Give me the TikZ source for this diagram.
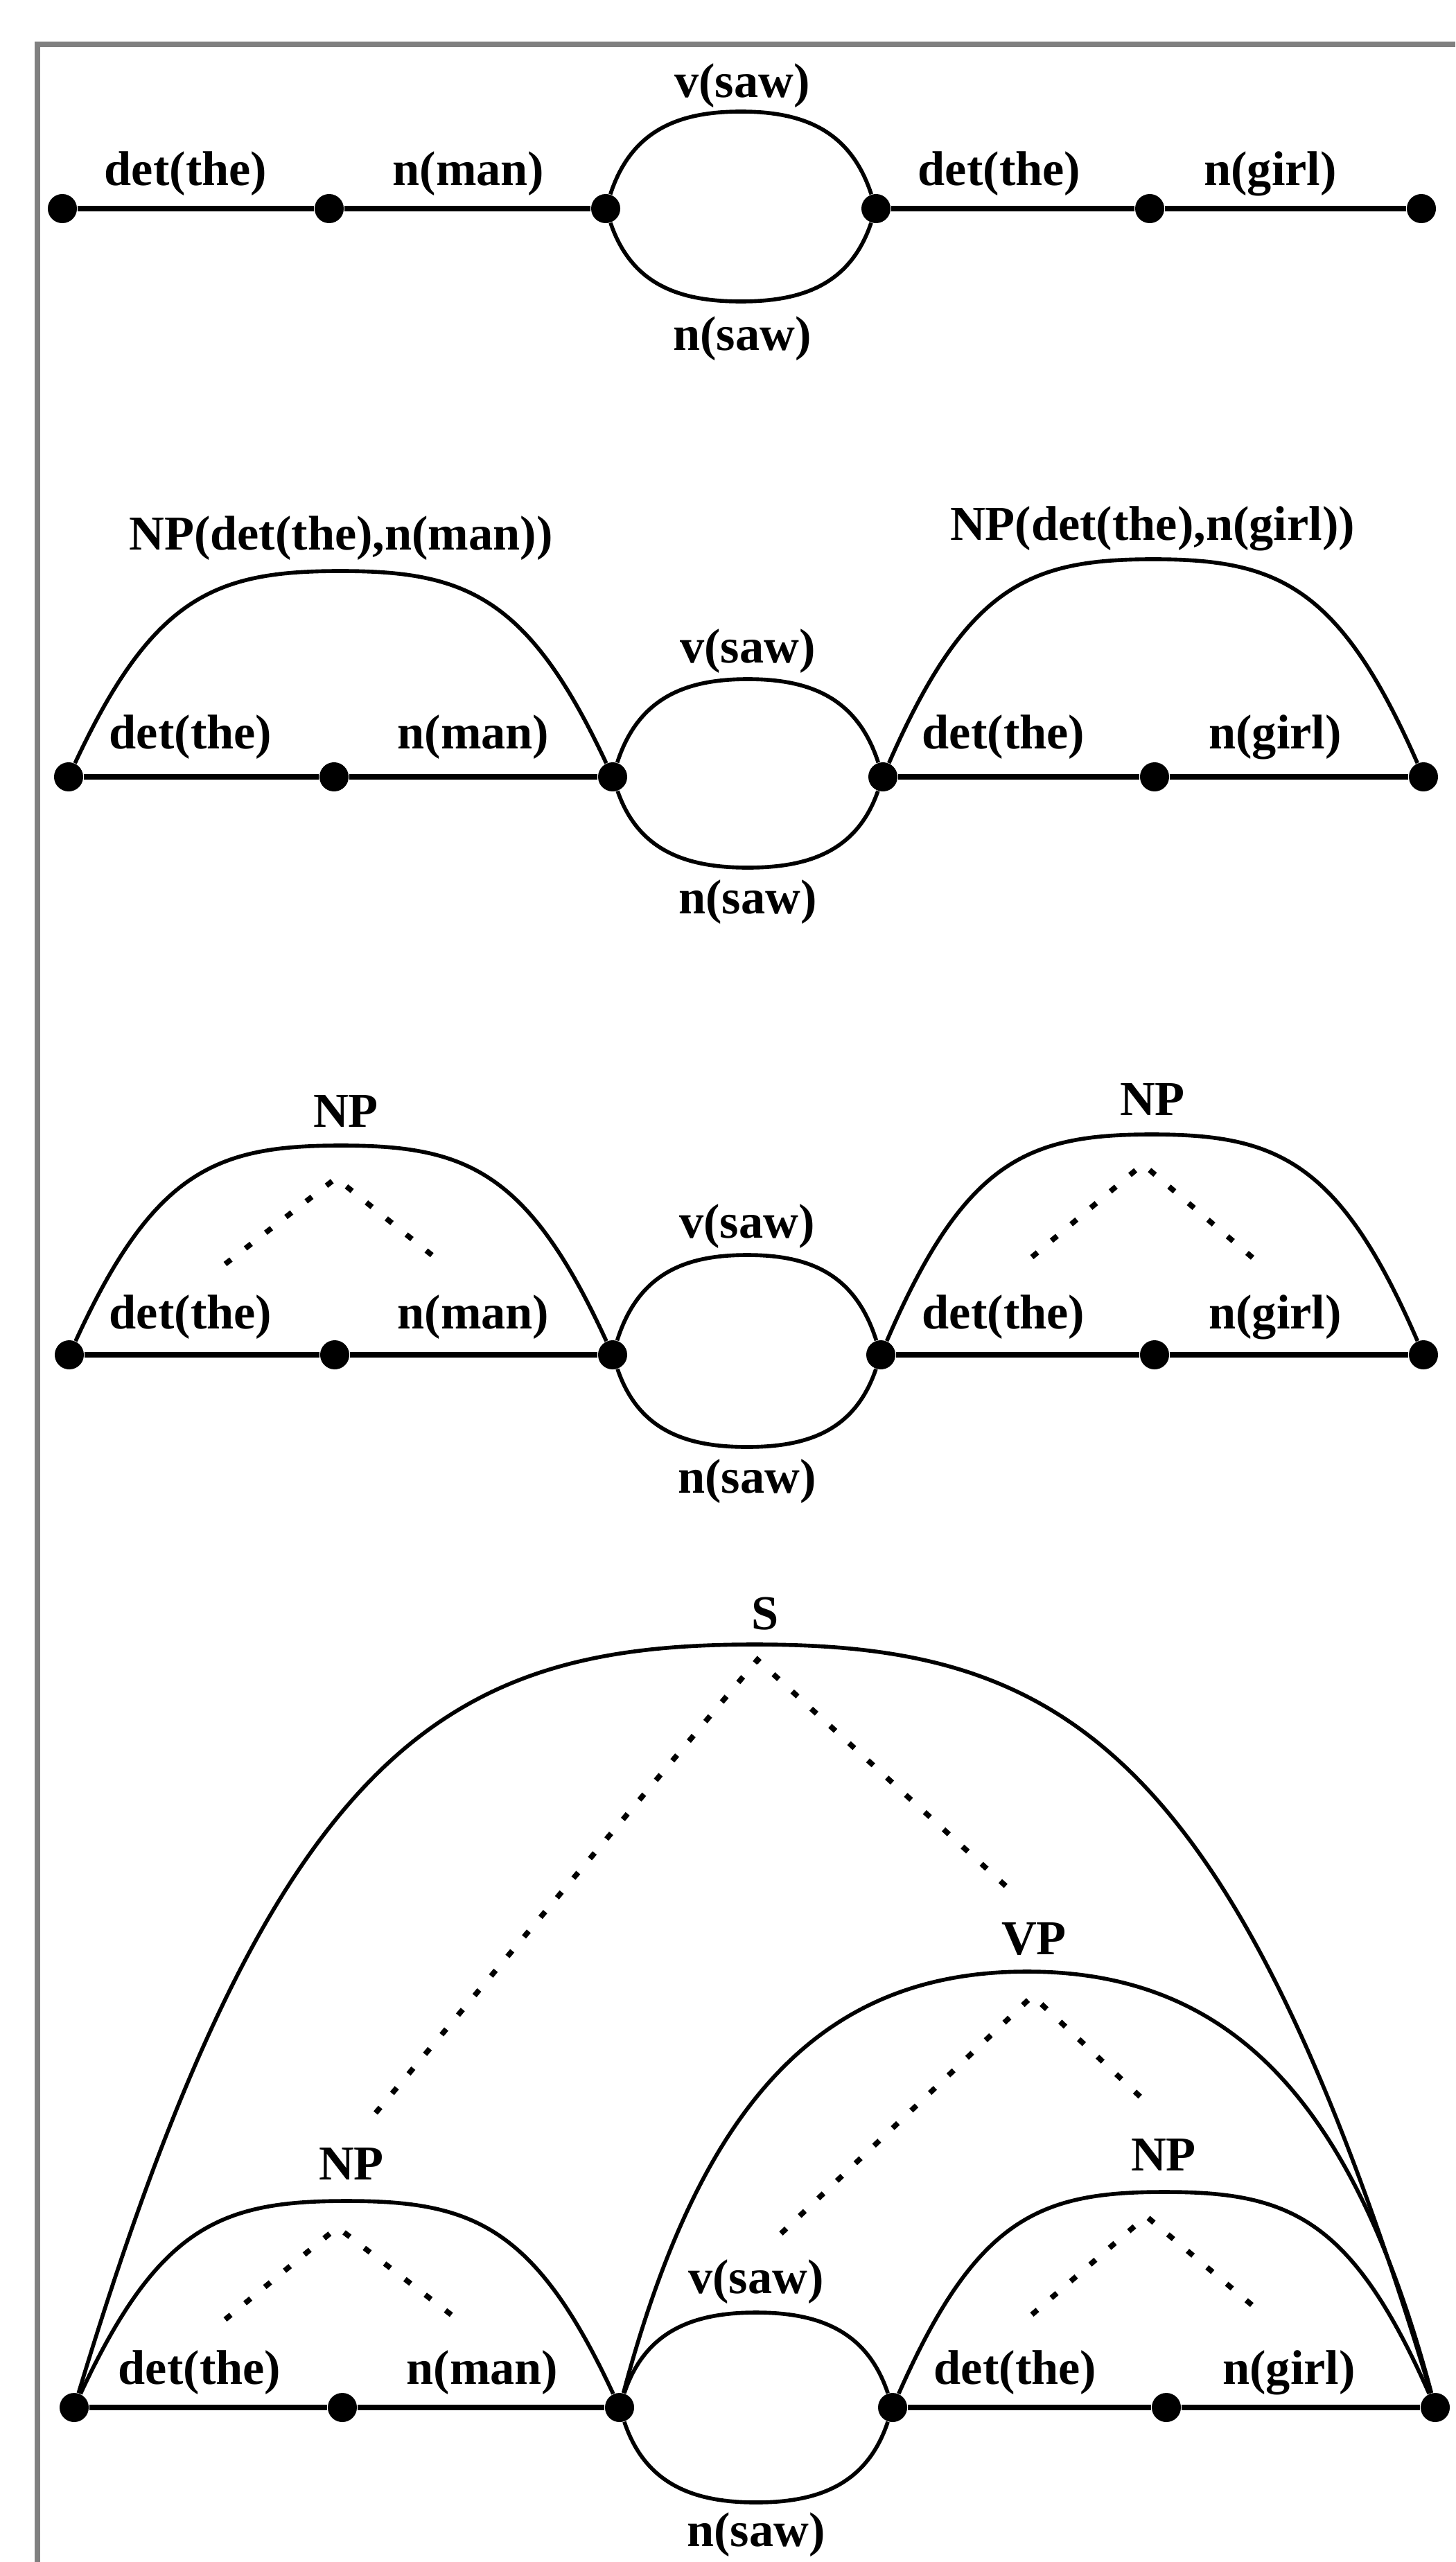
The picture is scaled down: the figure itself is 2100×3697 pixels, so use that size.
\documentclass[tikz,border=0pt]{standalone}
\usepackage{fontspec}
\setmainfont{Liberation Serif}
\begin{document}
\begin{tikzpicture}[x=0.01cm,y=-0.01cm,
  dot/.style={circle,fill,inner sep=0pt,minimum size=0.42cm},
  lab/.style={inner sep=0pt,font=\bfseries\fontsize{20}{24}\selectfont},
  barline/.style={line width=2.4pt},
  arcline/.style={line width=1.6pt},
  dotline/.style={line width=2.2pt,dash pattern=on 3pt off 7.5pt}]
\useasboundingbox (0,0) rectangle (2100,3697);
\draw[black!50,line width=2pt] (54,3697) -- (54,64) -- (2100,64);
% first chart: words only
\node[dot] (a1) at (90,301) {};
\node[dot] (b1) at (475,301) {};
\node[dot] (c1) at (874,301) {};
\node[dot] (d1) at (1264,301) {};
\node[dot] (e1) at (1659,301) {};
\node[dot] (f1) at (2051,301) {};
\coordinate (u1) at (1069,161);
\coordinate (l1) at (1069,435);
\draw[barline] (a1) -- (b1) -- (c1);
\draw[barline] (d1) -- (e1) -- (f1);
\draw[arcline] (c1) .. controls +(37,-113) and +(-90,0) .. (u1) .. controls +(90,0) and +(-37,-113) .. (d1);
\draw[arcline] (c1) .. controls +(37,109) and +(-90,0) .. (l1) .. controls +(90,0) and +(-37,109) .. (d1);
\node[lab] (det1a) at (268,251) {det(the)};
\node[lab] (man1) at (676,251) {n(man)};
\node[lab] (vsaw1) at (1071,124) {v(saw)};
\node[lab] (nsaw1) at (1071,489) {n(saw)};
\node[lab] (det1b) at (1442,251) {det(the)};
\node[lab] (girl1) at (1833,251) {n(girl)};
% second chart
\node[dot] (a2) at (99,1121) {};
\node[dot] (b2) at (482,1121) {};
\node[dot] (c2) at (884,1121) {};
\node[dot] (d2) at (1274,1121) {};
\node[dot] (e2) at (1666,1121) {};
\node[dot] (f2) at (2054,1121) {};
\coordinate (u2) at (1079,980);
\coordinate (l2) at (1079,1252);
\coordinate (np2l) at (491,824);
\coordinate (np2r) at (1664,807);
\draw[barline] (a2) -- (b2) -- (c2);
\draw[barline] (d2) -- (e2) -- (f2);
\draw[arcline] (c2) .. controls +(37,-114) and +(-90,0) .. (u2) .. controls +(90,0) and +(-37,-114) .. (d2);
\draw[arcline] (c2) .. controls +(37,106) and +(-90,0) .. (l2) .. controls +(90,0) and +(-37,106) .. (d2);
\draw[arcline] (a2) .. controls +(122,-261) and +(-180,0) .. (np2l) .. controls +(180,0) and +(-122,-261) .. (c2);
\draw[arcline] (d2) .. controls +(121,-276) and +(-179,0) .. (np2r) .. controls +(179,0) and +(-121,-276) .. (f2);
\node[lab] (det2a) at (275,1064) {det(the)};
\node[lab] (man2) at (683,1064) {n(man)};
\node[lab] (vsaw2) at (1079,940) {v(saw)};
\node[lab] (nsaw2) at (1079,1302) {n(saw)};
\node[lab] (det2b) at (1448,1064) {det(the)};
\node[lab] (girl2) at (1840,1064) {n(girl)};
\node[lab] (npman2) at (492,777) {NP(det(the),n(man))};
\node[lab] (npgirl2) at (1663,763) {NP(det(the),n(girl))};
% third chart
\node[dot] (a3) at (100,1955) {};
\node[dot] (b3) at (483,1955) {};
\node[dot] (c3) at (884,1955) {};
\node[dot] (d3) at (1271,1955) {};
\node[dot] (e3) at (1666,1955) {};
\node[dot] (f3) at (2054,1955) {};
\coordinate (u3) at (1078,1811);
\coordinate (l3) at (1078,2088);
\coordinate (np3l) at (492,1653);
\coordinate (np3r) at (1662,1637);
\draw[barline] (a3) -- (b3) -- (c3);
\draw[barline] (d3) -- (e3) -- (f3);
\draw[arcline] (c3) .. controls +(37,-117) and +(-90,0) .. (u3) .. controls +(90,0) and +(-37,-117) .. (d3);
\draw[arcline] (c3) .. controls +(37,108) and +(-90,0) .. (l3) .. controls +(90,0) and +(-37,108) .. (d3);
\draw[arcline] (a3) .. controls +(122,-266) and +(-180,0) .. (np3l) .. controls +(180,0) and +(-122,-266) .. (c3);
\draw[arcline] (d3) .. controls +(121,-280) and +(-180,0) .. (np3r) .. controls +(180,0) and +(-121,-280) .. (f3);
\coordinate (tip3l) at (485,1700);
\coordinate (tip3la) at (325,1824);
\coordinate (tip3lb) at (643,1827);
\coordinate (tip3r) at (1649,1680);
\coordinate (tip3ra) at (1489,1814);
\coordinate (tip3rb) at (1810,1817);
\draw[dotline] (tip3la) -- (tip3l) -- (tip3lb);
\draw[dotline] (tip3ra) -- (tip3r) -- (tip3rb);
\node[lab] (det3a) at (275,1901) {det(the)};
\node[lab] (man3) at (683,1901) {n(man)};
\node[lab] (vsaw3) at (1078,1770) {v(saw)};
\node[lab] (nsaw3) at (1078,2138) {n(saw)};
\node[lab] (det3b) at (1448,1901) {det(the)};
\node[lab] (girl3) at (1840,1901) {n(girl)};
\node[lab] (np3a) at (499,1603) {NP};
\node[lab] (np3b) at (1663,1586) {NP};
% fourth chart
\node[dot] (a4) at (107,3474) {};
\node[dot] (b4) at (494,3474) {};
\node[dot] (c4) at (894,3474) {};
\node[dot] (d4) at (1288,3474) {};
\node[dot] (e4) at (1683,3474) {};
\node[dot] (f4) at (2071,3474) {};
\coordinate (u4) at (1091,3337);
\coordinate (l4) at (1091,3611);
\coordinate (np4l) at (500,3176);
\coordinate (np4r) at (1680,3163);
\coordinate (vp4) at (1482,2845);
\coordinate (s4) at (1089,2373);
\draw[barline] (a4) -- (b4) -- (c4);
\draw[barline] (d4) -- (e4) -- (f4);
\draw[arcline] (c4) .. controls +(37,-111) and +(-90,0) .. (u4) .. controls +(90,0) and +(-37,-111) .. (d4);
\draw[arcline] (c4) .. controls +(37,111) and +(-90,0) .. (l4) .. controls +(90,0) and +(-37,111) .. (d4);
\draw[arcline] (a4) .. controls +(122,-262) and +(-181,0) .. (np4l) .. controls +(181,0) and +(-122,-262) .. (c4);
\draw[arcline] (d4) .. controls +(121,-274) and +(-180,0) .. (np4r) .. controls +(180,0) and +(-121,-274) .. (f4);
\draw[arcline] (c4) .. controls +(116,-435) and +(-300,0) .. (vp4) .. controls +(300,0) and +(-116,-435) .. (f4);
\draw[arcline] (a4) .. controls +(290,-960) and +(-440,0) .. (s4) .. controls +(440,0) and +(-290,-960) .. (f4);
\coordinate (tip4l) at (487,3214);
\coordinate (tip4la) at (325,3347);
\coordinate (tip4lb) at (660,3347);
\coordinate (tip4r) at (1654,3198);
\coordinate (tip4ra) at (1489,3340);
\coordinate (tip4rb) at (1823,3340);
\coordinate (tip4v) at (1490,2880);
\coordinate (tip4va) at (1127,3223);
\coordinate (tip4vb) at (1649,3029);
\coordinate (tip4s) at (1093,2395);
\coordinate (tip4sa) at (542,3049);
\coordinate (tip4sb) at (1465,2734);
\draw[dotline] (tip4la) -- (tip4l) -- (tip4lb);
\draw[dotline] (tip4ra) -- (tip4r) -- (tip4rb);
\draw[dotline] (tip4va) -- (tip4v) -- (tip4vb);
\draw[dotline] (tip4sa) -- (tip4s) -- (tip4sb);
\node[lab] (det4a) at (288,3424) {det(the)};
\node[lab] (man4) at (696,3424) {n(man)};
\node[lab] (vsaw4) at (1091,3293) {v(saw)};
\node[lab] (nsaw4) at (1091,3658) {n(saw)};
\node[lab] (det4b) at (1465,3424) {det(the)};
\node[lab] (girl4) at (1860,3424) {n(girl)};
\node[lab] (np4a) at (507,3122) {NP};
\node[lab] (np4b) at (1679,3109) {NP};
\node[lab] (vp4l) at (1492,2798) {VP};
\node[lab] (s4l) at (1104,2329) {S};
\end{tikzpicture}
\end{document}
